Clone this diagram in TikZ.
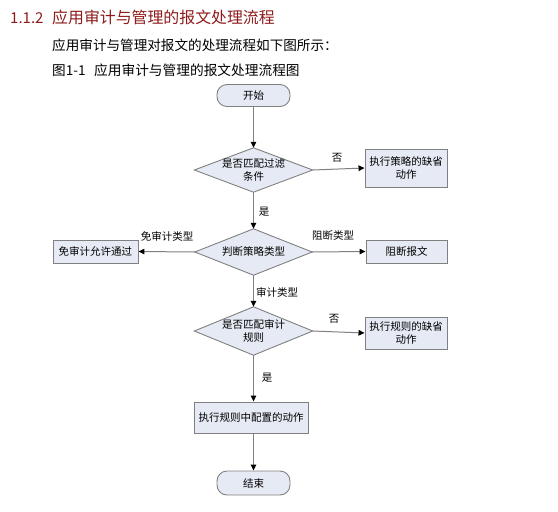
\documentclass[tikz,border=0pt]{standalone}
\usepackage{fontspec}
\setmainfont{Noto Sans CJK SC}
\usetikzlibrary{arrows.meta,backgrounds}
\definecolor{boxfill}{HTML}{E6EAF4}
\definecolor{boxline}{HTML}{808080}
\definecolor{titlered}{HTML}{8E1B1B}
\begin{document}
\begin{tikzpicture}[x=1pt,y=-1pt,
  flowfont/.style={font=\fontsize{10.5}{13}\selectfont},
  flowbox/.style={draw=boxline,fill=boxfill,line width=0.9pt,inner sep=1pt,align=center,flowfont},
  termbox/.style={flowbox,rounded corners=10pt},
  decbox/.style={inner sep=0pt,align=center,flowfont,minimum width=118,minimum height=46},
  diamondpath/.style={draw=boxline,fill=boxfill,line width=0.9pt},
  flow/.style={draw=boxline,line width=1pt,-{Triangle[length=6pt,width=5.5pt,fill=black,color=black]}},
  lbl/.style={flowfont,inner sep=0pt}
]
\useasboundingbox (0,0) rectangle (558,512);

% header texts
\node[anchor=base west,inner sep=0,text=titlered,font=\fontsize{15}{18}\selectfont] (hnum) at (10,23) {1.1.2};
\node[anchor=base west,inner sep=0,text=titlered,font=\fontsize{15.9}{18}\selectfont] (htitle) at (52,23) {应用审计与管理的报文处理流程};
\node[anchor=base west,inner sep=0,font=\fontsize{13.6}{16}\selectfont] (intro) at (52,50) {应用审计与管理对报文的处理流程如下图所示：};
\node[anchor=base west,inner sep=0,font=\fontsize{13.6}{16}\selectfont] (capnum) at (52,75) {图1-1};
\node[anchor=base west,inner sep=0,font=\fontsize{13.7}{16}\selectfont] (caption) at (94,75) {应用审计与管理的报文处理流程图};

% nodes
\node[termbox,minimum width=73,minimum height=22] (start) at (253.5,95.5) {开始};
\node[decbox,minimum height=44] (d1) at (253.5,170) {是否匹配过滤\\条件};
\node[flowbox,minimum width=82,minimum height=38] (pdef) at (406,168) {执行策略的缺省\\动作};
\node[decbox,minimum width=117,minimum height=46] (d2) at (253.5,252) {判断策略类型};
\node[flowbox,minimum width=85,minimum height=23] (free) at (95.5,251.5) {免审计允许通过};
\node[flowbox,minimum width=81,minimum height=23] (block) at (406.5,251.5) {阻断报文};
\node[decbox,minimum width=118,minimum height=48] (d3) at (253.5,331) {是否匹配审计\\规则};
\node[flowbox,minimum width=82,minimum height=32] (rdef) at (406,333) {执行规则的缺省\\动作};
\node[flowbox,minimum width=114,minimum height=31] (act) at (251,417.5) {执行规则中配置的动作};
\node[termbox,minimum width=73,minimum height=24] (end) at (253.5,483) {结束};

\begin{scope}[on background layer]
  \foreach \d in {d1,d2,d3}
    \path[diamondpath] (\d.north) -- (\d.east) -- (\d.south) -- (\d.west) -- cycle;
\end{scope}

% connectors
\draw[flow] (start) -- (d1.north);
\draw[flow] (d1.east) -- (pdef.west);
\draw[flow] (d1.south) -- (d2.north);
\draw[flow] (d2.west) -- (free.east);
\draw[flow] (d2.east) -- (block.west);
\draw[flow] (d2.south) -- (d3.north);
\draw[flow] (d3.east) -- (rdef.west);
\draw[flow] (d3.south) -- (act.north -| d3.south);
\draw[flow] (act.south -| end.north) -- (end.north);

% labels
\node[lbl] (l1) at (337,158) {否};
\node[lbl] (l2) at (264,212) {是};
\node[lbl] (l3) at (167,236) {免审计类型};
\node[lbl] (l4) at (333,236) {阻断类型};
\node[lbl] (l5) at (277,292) {审计类型};
\node[lbl] (l6) at (334,319) {否};
\node[lbl] (l7) at (267,378) {是};
\end{tikzpicture}
\end{document}
